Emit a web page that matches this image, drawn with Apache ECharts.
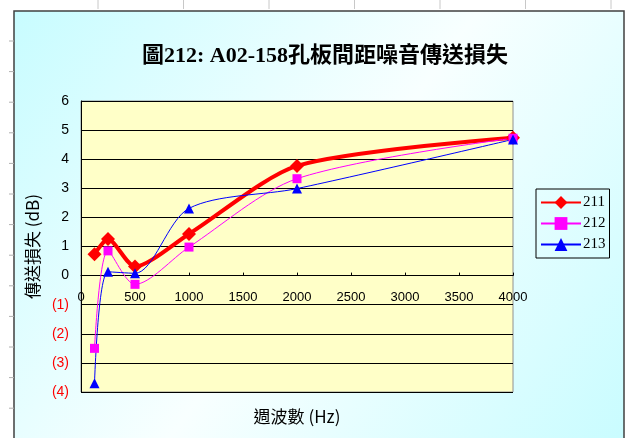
<!DOCTYPE html>
<html>
<head>
<meta charset="utf-8">
<script src="https://cdn.jsdelivr.net/npm/echarts@6/dist/echarts.min.js"></script>
<style>
  html, body { margin: 0; padding: 0; background: #ffffff; }
  #chart { width: 626px; height: 438px; }
</style>
</head>
<body>
<div id="chart"></div>
<script>
// 週波數 (Hz)
const freqs = [125, 250, 500, 1000, 2000, 4000]
// 傳送損失 (dB)
const s211 = [0.73, 1.26, 0.31, 1.43, 3.77, 4.74]
const s212 = [-2.5, 0.85, -0.3, 0.98, 3.33, 4.72]
const s213 = [-3.7, 0.13, 0.08, 2.31, 2.99, 4.68]
const seriesNames = ['211', '212', '213']

const pair = (ys) => freqs.map((f, i) => [f, ys[i]])

const serifFont = '"Liberation Serif", "Noto Sans CJK TC", serif'
const sansFont = '"Liberation Sans", sans-serif'
const cjkFont = '"Noto Sans CJK TC", sans-serif'

// 版面
const gridTop = 101
const gridBottom = 46
const gridHeight = 438 - gridTop - gridBottom
const yMin = -4
const yMax = 6
// x 軸移到 0 的位置
const xAxisOffset = -(gridHeight * (0 - yMin)) / (yMax - yMin)

const chart = echarts.init(document.getElementById('chart'), null, { renderer: 'canvas' })

// 工作表上的格線殘影
const rulerMarks = []
for (let x = 98; x < 626; x += 85.5) {
  rulerMarks.push({ type: 'line', shape: { x1: x, y1: 0, x2: x, y2: 9 }, style: { stroke: '#c8c8c8', lineWidth: 1 }, z: 0 })
}
for (let y = 41; y < 438; y += 30.6) {
  rulerMarks.push({ type: 'line', shape: { x1: 9, y1: y, x2: 14, y2: y }, style: { stroke: '#b0b0b0', lineWidth: 1 }, z: 0 })
}

const option = {
  animation: false,
  backgroundColor: '#ffffff',
  graphic: [
    {
      type: 'rect',
      shape: { x: 14, y: 11, width: 610, height: 440 },
      style: {
        fill: new echarts.graphic.LinearGradient(0, 0, 1, 1, [
          { offset: 0, color: '#c8fcff' },
          { offset: 0.5, color: '#f8ffff' },
          { offset: 1, color: '#c8fcff' }
        ]),
        stroke: '#404040',
        lineWidth: 1.5
      },
      z: -10
    },
    ...rulerMarks,
    {
      type: 'text',
      x: 297,
      y: 417,
      style: {
        text: '週波數 (Hz)',
        font: '17px ' + cjkFont,
        fill: '#000000',
        align: 'center',
        verticalAlign: 'middle'
      }
    }
  ],
  title: {
    text: '圖212: A02-158孔板間距噪音傳送損失',
    left: 320,
    top: 40,
    textAlign: 'center',
    textStyle: {
      fontFamily: serifFont,
      fontWeight: 'bold',
      fontSize: 22,
      color: '#000000'
    }
  },
  legend: {
    orient: 'vertical',
    left: 536,
    top: 189,
    width: 71,
    padding: [6, 4, 6, 4],
    itemGap: 6,
    itemWidth: 40,
    itemHeight: 16,
    backgroundColor: 'rgba(255,255,255,0)',
    borderColor: '#000000',
    borderWidth: 1,
    borderRadius: 0,
    data: seriesNames,
    textStyle: {
      fontFamily: serifFont,
      fontSize: 15,
      color: '#000000',
      padding: [0, 0, 0, -3]
    }
  },
  grid: {
    left: 81,
    right: 113,
    top: gridTop,
    bottom: gridBottom,
    show: true,
    backgroundColor: '#ffffc8',
    borderColor: '#909090',
    borderWidth: 1
  },
  xAxis: {
    type: 'value',
    position: 'bottom',
    offset: xAxisOffset,
    min: 0,
    max: 4000,
    interval: 500,
    axisLine: { onZero: false, lineStyle: { color: '#000000', width: 1 } },
    axisTick: { show: true, inside: true, length: 3, lineStyle: { color: '#000000' } },
    axisLabel: {
      margin: 15,
      fontFamily: sansFont,
      fontSize: 13,
      color: '#000000',
      formatter: (v) => String(v)
    },
    splitLine: { show: false }
  },
  yAxis: {
    type: 'value',
    min: yMin,
    max: yMax,
    interval: 1,
    name: '傳送損失 (dB)',
    nameLocation: 'middle',
    nameRotate: 90,
    nameGap: 40,
    nameTextStyle: { fontFamily: cjkFont, fontSize: 17, color: '#000000' },
    axisLine: { show: true, lineStyle: { color: '#000000', width: 1 } },
    axisTick: { show: false },
    axisLabel: {
      margin: 12,
      fontFamily: sansFont,
      fontSize: 14,
      formatter: (v) => (v < 0 ? '(' + -v + ')' : String(v)),
      color: (v) => (Number(v) < 0 ? '#ff0000' : '#000000')
    },
    splitLine: { show: true, lineStyle: { color: '#000000', width: 1 } }
  },
  series: [
    {
      name: seriesNames[0],
      type: 'line',
      data: pair(s211),
      smooth: 0.25,
      symbol: 'diamond',
      symbolSize: 14,
      lineStyle: { color: '#ff0000', width: 4 },
      itemStyle: { color: '#ff0000' }
    },
    {
      name: seriesNames[1],
      type: 'line',
      data: pair(s212),
      smooth: 0.3,
      symbol: 'rect',
      symbolSize: 9,
      lineStyle: { color: '#ff00ff', width: 1 },
      itemStyle: { color: '#ff00ff' }
    },
    {
      name: seriesNames[2],
      type: 'line',
      data: pair(s213),
      smooth: 0.3,
      symbol: 'triangle',
      symbolSize: 10,
      lineStyle: { color: '#0000ff', width: 1 },
      itemStyle: { color: '#0000ff' }
    }
  ]
}

chart.setOption(option)
</script>
</body>
</html>
